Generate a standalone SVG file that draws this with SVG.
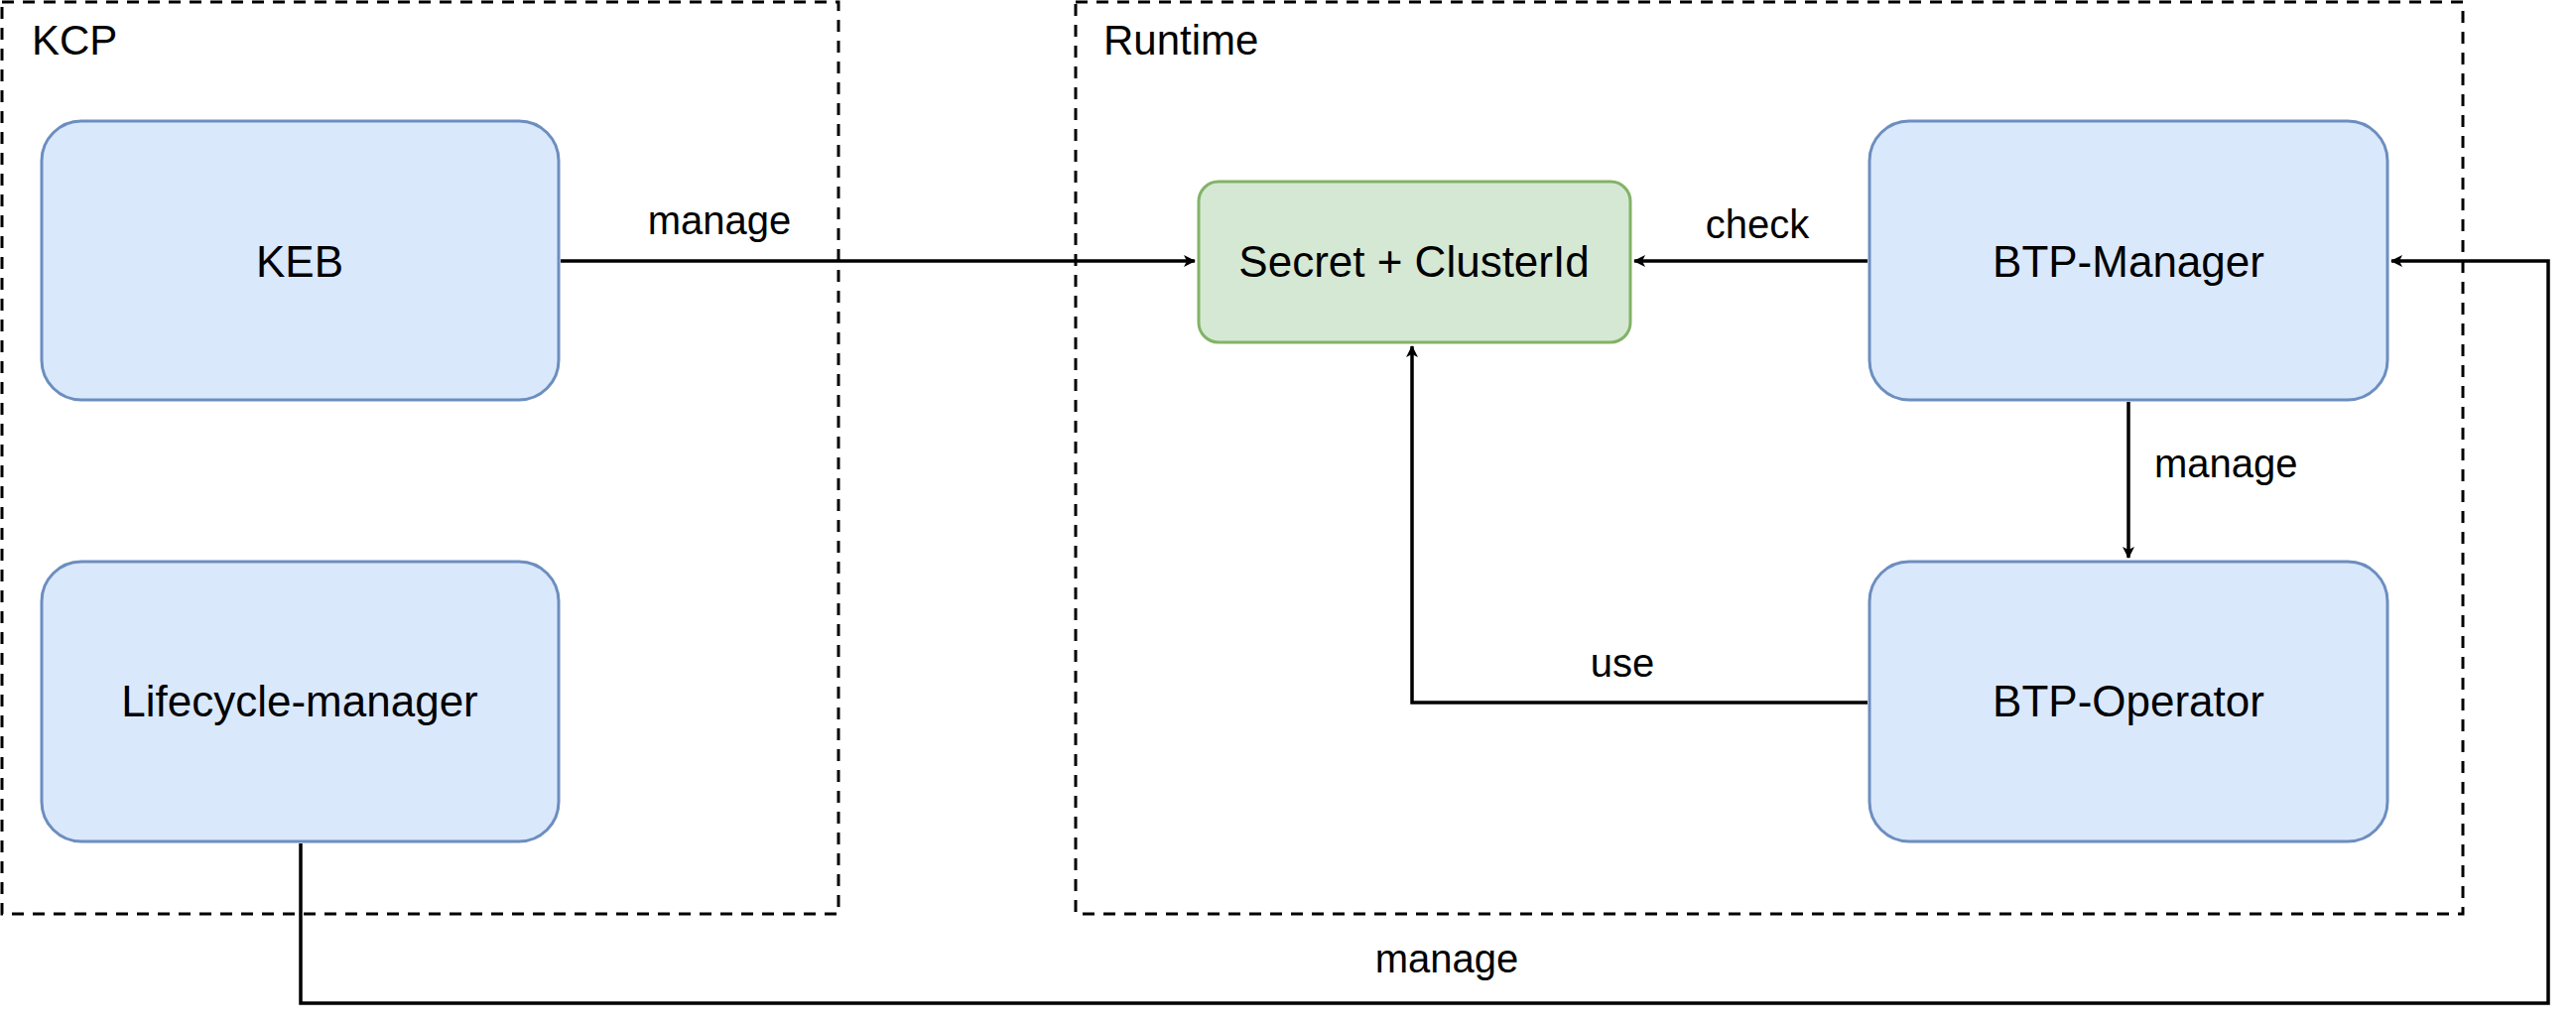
<svg xmlns="http://www.w3.org/2000/svg" width="2596" height="1036" viewBox="0 0 2596 1036">
<defs>
<marker id="arr" markerWidth="12" markerHeight="12" refX="11" refY="6" orient="auto" markerUnits="userSpaceOnUse" viewBox="0 0 12 12">
<path d="M0,0 L12,6 L0,12 L3,6 Z" fill="#000"/>
</marker>
<style>
text{font-family:"Liberation Sans",Arial,sans-serif;fill:#000}
.n{font-size:44px;text-anchor:middle}
.l{font-size:40px}
.c{font-size:42px}
.blue{fill:#dae8fc;stroke:#6c8ebf;stroke-width:3}
.green{fill:#d5e8d4;stroke:#82b366;stroke-width:3}
.grp{fill:none;stroke:#000;stroke-width:3;stroke-dasharray:12,9}
.e{fill:none;stroke:#000;stroke-width:3.5}
</style>
</defs>
<rect width="2596" height="1036" fill="#fff"/>
<g id="kcp"><rect class="grp" x="2" y="2" width="843" height="919"/><text class="c" x="32" y="55">KCP</text></g>
<g id="runtime"><rect class="grp" x="1084" y="2" width="1398" height="919"/><text class="c" x="1112" y="55">Runtime</text></g>
<g id="keb"><rect class="blue" x="42" y="122" width="521" height="281" rx="40"/><text class="n" x="302" y="279">KEB</text></g>
<g id="lcm"><rect class="blue" x="42" y="566" width="521" height="282" rx="40"/><text class="n" x="302" y="722">Lifecycle-manager</text></g>
<g id="secret"><rect class="green" x="1208" y="183" width="435" height="162" rx="20"/><text class="n" x="1425" y="279">Secret + ClusterId</text></g>
<g id="btpm"><rect class="blue" x="1884" y="122" width="522" height="281" rx="40"/><text class="n" x="2145" y="279">BTP-Manager</text></g>
<g id="btpo"><rect class="blue" x="1884" y="566" width="522" height="282" rx="40"/><text class="n" x="2145" y="722">BTP-Operator</text></g>
<g id="connectors">
<path class="e" d="M565,263 H1204" marker-end="url(#arr)"/>
<text class="l" x="725" y="236" text-anchor="middle">manage</text>
<path class="e" d="M1882,263 H1647" marker-end="url(#arr)"/>
<text class="l" x="1771" y="240" text-anchor="middle">check</text>
<path class="e" d="M2145,405 V562" marker-end="url(#arr)"/>
<text class="l" x="2171" y="481">manage</text>
<path class="e" d="M1882,708 H1423 V349" marker-end="url(#arr)"/>
<text class="l" x="1635" y="682" text-anchor="middle">use</text>
<path class="e" d="M303,850 V1011 H2568 V263 H2410" marker-end="url(#arr)"/>
<text class="l" x="1458" y="980" text-anchor="middle">manage</text>
</g>
</svg>
